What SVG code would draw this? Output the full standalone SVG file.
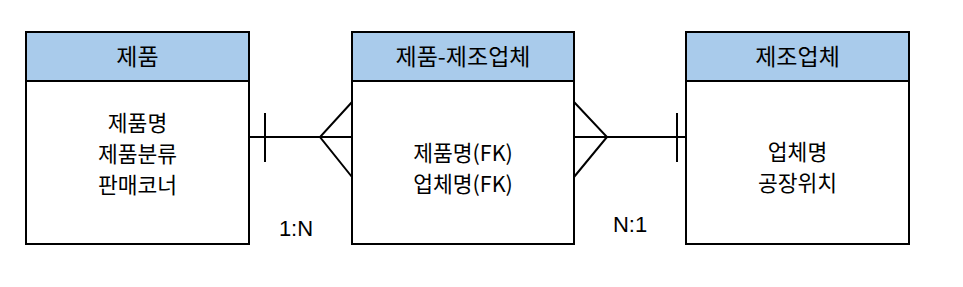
<svg xmlns="http://www.w3.org/2000/svg" width="963" height="287" viewBox="0 0 963 287">
<style>
.box{fill:#fff;stroke:#000;stroke-width:2}
.hdr{fill:#a9cbeb;stroke:#000;stroke-width:2}
.h{font-family:"Noto Sans CJK KR","Noto Sans",sans-serif;font-size:23px;fill:#000;text-anchor:middle}
.t{font-family:"Noto Sans CJK KR","Noto Sans",sans-serif;font-size:21.5px;fill:#000;text-anchor:middle}
.lbl{font-family:"Liberation Sans",Arial,sans-serif;font-size:22px;fill:#000;text-anchor:middle}
.ln{stroke:#000;stroke-width:2;fill:none}
</style>
<rect width="963" height="287" fill="#fff"/>
<g id="product">
<rect class="box" x="26" y="32" width="223" height="212"/>
<rect class="hdr" x="26" y="32" width="223" height="49"/>
<text class="h" x="137.5" y="65">제품</text>
<text class="t" x="137.5" y="131">제품명</text>
<text class="t" x="137.5" y="162">제품분류</text>
<text class="t" x="137.5" y="193">판매코너</text>
</g>
<g id="product-maker">
<rect class="box" x="352" y="32" width="222" height="212"/>
<rect class="hdr" x="352" y="32" width="222" height="49"/>
<text class="h" x="463" y="65">제품-제조업체</text>
<text class="t" x="463" y="161">제품명(FK)</text>
<text class="t" x="463" y="192">업체명(FK)</text>
</g>
<g id="maker">
<rect class="box" x="686" y="32" width="223" height="212"/>
<rect class="hdr" x="686" y="32" width="223" height="49"/>
<text class="h" x="797.5" y="65">제조업체</text>
<text class="t" x="797.5" y="160">업체명</text>
<text class="t" x="797.5" y="191">공장위치</text>
</g>
<g id="connectors">
<line class="ln" x1="249" y1="137" x2="352" y2="137"/>
<line class="ln" x1="265" y1="113" x2="265" y2="162"/>
<polyline class="ln" points="352,102 320,137 352,177"/>
<line class="ln" x1="574" y1="137" x2="686" y2="137"/>
<line class="ln" x1="677" y1="113" x2="677" y2="162"/>
<polyline class="ln" points="574,102 607,137 574,177"/>
<text class="lbl" x="296" y="236">1:N</text>
<text class="lbl" x="630" y="232">N:1</text>
</g>
</svg>
